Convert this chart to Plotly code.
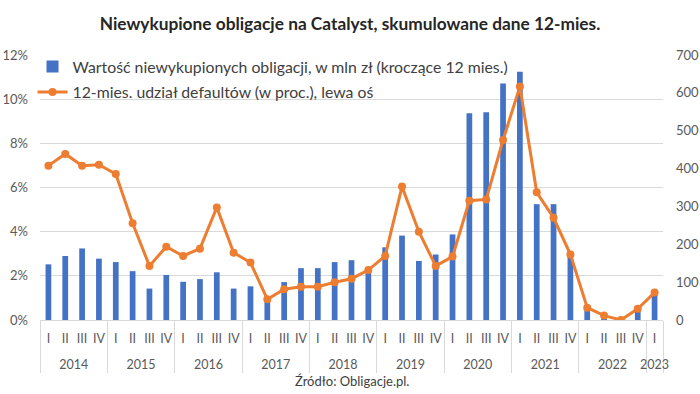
import plotly.graph_objects as go

years = ["2014"]*4 + ["2015"]*4 + ["2016"]*4 + ["2017"]*4 + ["2018"]*4 + \
        ["2019"]*4 + ["2020"]*4 + ["2021"]*4 + ["2022"]*4 + ["2023"]
quarters = ["I", "II", "III", "IV"]*9 + ["I"]

bar_values = [147, 169, 189, 162,
              153, 129, 83, 119,
              101, 108, 126, 83,
              89, 58, 100, 137,
              137, 153, 158, 134,
              192, 223, 156, 173,
              226, 546, 549, 625,
              656, 306, 306, 182,
              28, 6, 0, 25,
              70]

default_share = [6.99, 7.52, 6.99, 7.03,
                 6.61, 4.38, 2.45, 3.32,
                 2.90, 3.23, 5.10, 3.05,
                 2.60, 0.94, 1.39, 1.51,
                 1.51, 1.71, 1.87, 2.26,
                 2.90, 6.04, 4.00, 2.45,
                 2.87, 5.40, 5.46, 8.15,
                 10.57, 5.78, 4.63, 2.97,
                 0.56, 0.20, 0.00, 0.51,
                 1.24]

title_text = "Niewykupione obligacje na Catalyst, skumulowane dane 12-mies."
bar_name = "Wartość niewykupionych obligacji, w mln zł (kroczące 12 mies.)"
line_name = "12-mies. udział defaultów (w proc.), lewa oś"
source_text = "Źródło: Obligacje.pl."

FONT = "Lato"
TXT = "#595959"

# quarter labels get an empty second line so the year row sits lower
quarter_labels = [q + "<br> " for q in quarters]
xcats = [years, quarter_labels]

fig = go.Figure()
fig.add_trace(go.Bar(
    x=xcats, y=bar_values, name=bar_name,
    marker=dict(color="#4472C4", line=dict(width=0)),
    yaxis="y", legendgroup="a",
))
fig.add_trace(go.Scatter(
    x=xcats, y=[v/100 for v in default_share], name=line_name,
    mode="lines+markers",
    line=dict(color="#ED7D31", width=3),
    marker=dict(color="#ED7D31", size=8),
    yaxis="y2", legendgroup="b",
))

fig.update_layout(
    width=700, height=394,
    margin=dict(l=40, r=37, t=55, b=74, autoexpand=False),
    paper_bgcolor="white", plot_bgcolor="white",
    font=dict(family=FONT, color=TXT, size=12),
    bargap=0.66,
    showlegend=True,
    title=dict(text="<b>" + title_text + "</b>", x=0.5, xanchor="center",
               y=0.94, yanchor="middle",
               font=dict(family=FONT, size=17.3, color="#262626")),
    legend=dict(x=-0.012, y=1.02, xanchor="left", yanchor="top",
                bgcolor="rgba(0,0,0,0)", tracegroupgap=2,
                font=dict(family=FONT, size=15.8, color="#404040"),
                itemwidth=30),
    xaxis=dict(type="multicategory", showgrid=False, automargin=False,
               range=[-0.5, 36.5],
               showline=True, linecolor="#d9d9d9", linewidth=1,
               showdividers=True, dividercolor="#d9d9d9", dividerwidth=1,
               tickfont=dict(family=FONT, size=12.5, color=TXT),
               tickangle=0, ticks="", ticklabelstandoff=7),
    yaxis=dict(side="right", range=[0, 700], dtick=100, showgrid=False,
               automargin=False, ticklabelstandoff=12,
               zeroline=False, tickfont=dict(family=FONT, size=13, color=TXT),
               ticks=""),
    yaxis2=dict(side="left", overlaying="y", range=[0, 0.12], dtick=0.02,
                tickformat=".0%", showgrid=True, gridcolor="#d9d9d9",
                automargin=False, ticklabelstandoff=11,
                gridwidth=1, zeroline=False,
                tickfont=dict(family=FONT, size=13, color=TXT),
                ticks=""),
    annotations=[dict(text=source_text, xref="paper", yref="paper",
                      x=0.5, y=-0.23, xanchor="center", yanchor="middle",
                      showarrow=False,
                      font=dict(family=FONT, size=13, color="#404040"))],
)

fig.write_html("out.html", config={"displayModeBar": False},
               post_script="document.body.style.margin='0';")
